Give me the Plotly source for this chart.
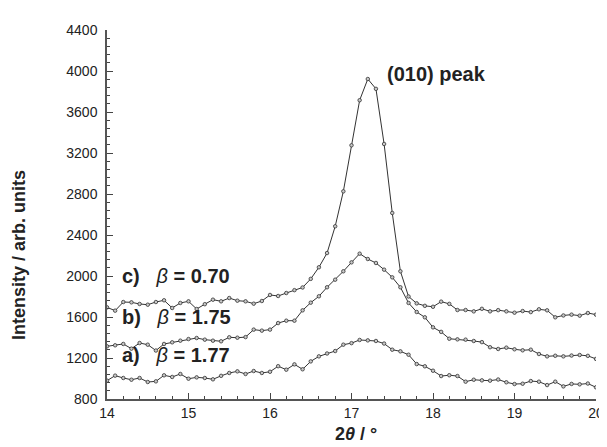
import plotly.graph_objects as go

two_theta = [14.0, 14.1, 14.2, 14.3, 14.4, 14.5, 14.6, 14.7, 14.8, 14.9,
             15.0, 15.1, 15.2, 15.3, 15.4, 15.5, 15.6, 15.7, 15.8, 15.9,
             16.0, 16.1, 16.2, 16.3, 16.4, 16.5, 16.6, 16.7, 16.8, 16.9,
             17.0, 17.1, 17.2, 17.3, 17.4, 17.5, 17.6, 17.7, 17.8, 17.9,
             18.0, 18.1, 18.2, 18.3, 18.4, 18.5, 18.6, 18.7, 18.8, 18.9,
             19.0, 19.1, 19.2, 19.3, 19.4, 19.5, 19.6, 19.7, 19.8, 19.9,
             20.0]

series_c = [1694, 1662, 1746, 1743, 1727, 1720, 1746, 1763, 1688, 1737,
            1753, 1678, 1725, 1769, 1753, 1785, 1759, 1753, 1730, 1756,
            1815, 1805, 1834, 1862, 1888, 1972, 2085, 2224, 2485, 2826,
            3275, 3715, 3922, 3826, 3288, 2615, 2046, 1800, 1733, 1709,
            1700, 1750, 1728, 1668, 1668, 1655, 1680, 1655, 1667, 1655,
            1642, 1658, 1648, 1675, 1665, 1597, 1615, 1623, 1613, 1639,
            1623]

series_b = [1314, 1324, 1337, 1291, 1346, 1330, 1273, 1337, 1353, 1369,
            1385, 1395, 1379, 1369, 1363, 1402, 1398, 1404, 1477, 1467,
            1477, 1541, 1564, 1564, 1665, 1740, 1802, 1890, 1964, 2046,
            2133, 2218, 2166, 2127, 2062, 1987, 1890, 1737, 1649, 1597,
            1499, 1455, 1388, 1382, 1379, 1366, 1355, 1305, 1288, 1301,
            1285, 1275, 1281, 1239, 1216, 1222, 1216, 1224, 1229, 1221,
            1191]

series_a = [979, 1028, 1005, 988, 1005, 966, 972, 1031, 1015, 1044,
            998, 1011, 1005, 992, 1026, 1054, 1070, 1044, 1073, 1054,
            1066, 1120, 1086, 1138, 1090, 1167, 1216, 1244, 1268, 1330,
            1345, 1376, 1372, 1366, 1341, 1281, 1265, 1232, 1141, 1119,
            1076, 1024, 1032, 1024, 969, 988, 982, 979, 990, 963,
            946, 949, 975, 969, 936, 969, 923, 947, 943, 951,
            914]

labels = ["c)", "b)", "a)"]
betas = ["0.70", "1.75", "1.77"]
label_x = [14.16, 14.16, 14.16]
label_y = [2000, 1600, 1225]

FONT = "Liberation Sans, Arial, sans-serif"

fig = go.Figure()
for ys in (series_a, series_b, series_c):
    fig.add_trace(go.Scatter(
        x=two_theta, y=ys, mode="lines+markers",
        line=dict(color="#333333", width=1),
        marker=dict(symbol="circle", size=3.5, color="#c8c8c8",
                    line=dict(color="#333333", width=0.8)),
        showlegend=False, hoverinfo="x+y"))

for lab, b, lx, ly in zip(labels, betas, label_x, label_y):
    fig.add_annotation(
        x=lx, y=ly, xref="x", yref="y", xanchor="left", yanchor="middle",
        text=f"<b>{lab}</b>&nbsp;&nbsp;&nbsp;<i>β</i><b> = {b}</b>",
        showarrow=False, font=dict(family=FONT, size=20, color="#222222"))

fig.add_annotation(
    x=17.41, y=3970, xref="x", yref="y", xanchor="left", yanchor="middle",
    text="<b>(010) peak</b>", showarrow=False,
    font=dict(family=FONT, size=20, color="#222222"))

fig.add_annotation(
    x=0, y=0.39, xref="paper", yref="paper", xshift=-88,
    xanchor="center", yanchor="middle", textangle=-90,
    text="<b>Intensity / arb. units</b>", showarrow=False,
    font=dict(family=FONT, size=18, color="#222222"))

fig.add_annotation(
    x=0.509, y=-0.062, xref="paper", yref="paper",
    xanchor="center", yanchor="top",
    text="<b>2<i>θ</i> / °</b>", showarrow=False,
    font=dict(family=FONT, size=18, color="#222222"))

axis_common = dict(
    showgrid=False, zeroline=False, showline=True,
    linecolor="#555555", linewidth=1.5, mirror=False,
    ticks="inside", ticklen=6, tickwidth=1.2, tickcolor="#444444",
    tickfont=dict(family=FONT, size=14, color="#222222"),
)

fig.update_xaxes(range=[14, 20], dtick=1, tick0=14,
                 minor=dict(dtick=0.2, ticks="inside", ticklen=3,
                            tickcolor="#444444", tickwidth=1),
                 ticklabelstandoff=0, **axis_common)
fig.update_yaxes(range=[800, 4400], dtick=400, tick0=800,
                 minor=dict(dtick=80, ticks="inside", ticklen=3,
                            tickcolor="#444444", tickwidth=1),
                 ticklabelstandoff=5, **axis_common)

fig.update_layout(
    width=607, height=447,
    margin=dict(l=99, r=11, t=22, b=56),
    paper_bgcolor="white", plot_bgcolor="white",
    font=dict(family=FONT),
)

fig.write_html("out.html")
